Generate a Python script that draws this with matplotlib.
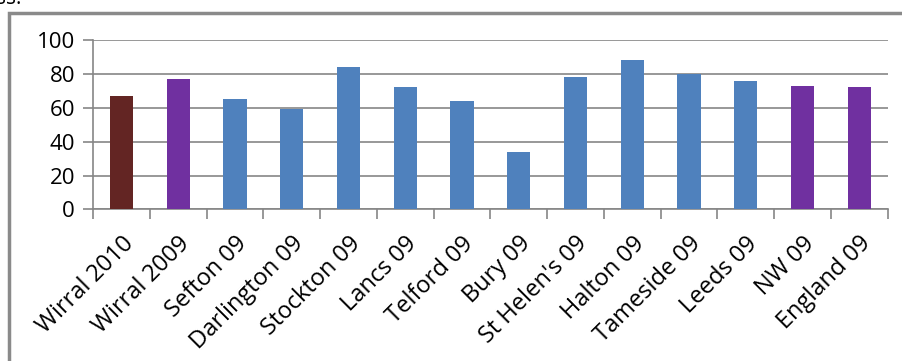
import matplotlib.pyplot as plt
from matplotlib.patches import Rectangle
import numpy as np

plt.rcParams['font.family'] = ['Open Sans', 'DejaVu Sans']

categories = ['Wirral 2010', 'Wirral 2009', 'Sefton 09', 'Darlington 09', 'Stockton 09',
              'Lancs 09', 'Telford 09', 'Bury 09', "St Helen's 09", 'Halton 09',
              'Tameside 09', 'Leeds 09', 'NW 09', 'England 09']
values = [67, 77, 65, 59, 84, 72, 64, 34, 78, 88, 80, 76, 73, 72]
colors = ['#632523', '#7030A0'] + ['#4F81BD'] * 10 + ['#7030A0', '#7030A0']

grey = '#868686'

fig = plt.figure(figsize=(9.03, 3.61), dpi=100)
ax = fig.add_axes([0.103, 0.420, 0.880, 0.469])

x = np.arange(len(categories))
ax.bar(x, values, width=0.41, color=colors, zorder=3)

ax.set_xlim(-0.5, len(categories) - 0.5)
ax.set_ylim(0, 100)
ax.set_yticks(range(0, 101, 20))
ax.yaxis.grid(True, color=grey, linewidth=1.2, zorder=0)

# category labels centred, tick marks between categories
ax.set_xticks(x)
ax.set_xticklabels(categories, rotation=45, ha='right', va='top',
                   rotation_mode='anchor', fontsize=17)
ax.set_xticks(np.arange(-0.5, len(categories)), minor=True)
ax.tick_params(axis='x', which='major', length=0, pad=16)
ax.tick_params(axis='x', which='minor', length=7, color=grey, width=1.2)
ax.tick_params(axis='y', length=7, color=grey, width=1.2, labelsize=16, pad=6)

for side in ['top', 'right']:
    ax.spines[side].set_visible(False)
for side in ['left', 'bottom']:
    ax.spines[side].set_color(grey)
    ax.spines[side].set_linewidth(1.2)

# outer frame around the chart
fig.patches.append(Rectangle((8.5 / 903, -0.2), 1.2, 1.2 - 12.5 / 361,
                             transform=fig.transFigure, fill=False,
                             edgecolor='#8a8a8a', linewidth=2.5))
fig.text(-0.004, 1 - 4 / 361, 'ss.', fontsize=15, va='baseline', ha='left')

fig.savefig('out.png', dpi=100)
